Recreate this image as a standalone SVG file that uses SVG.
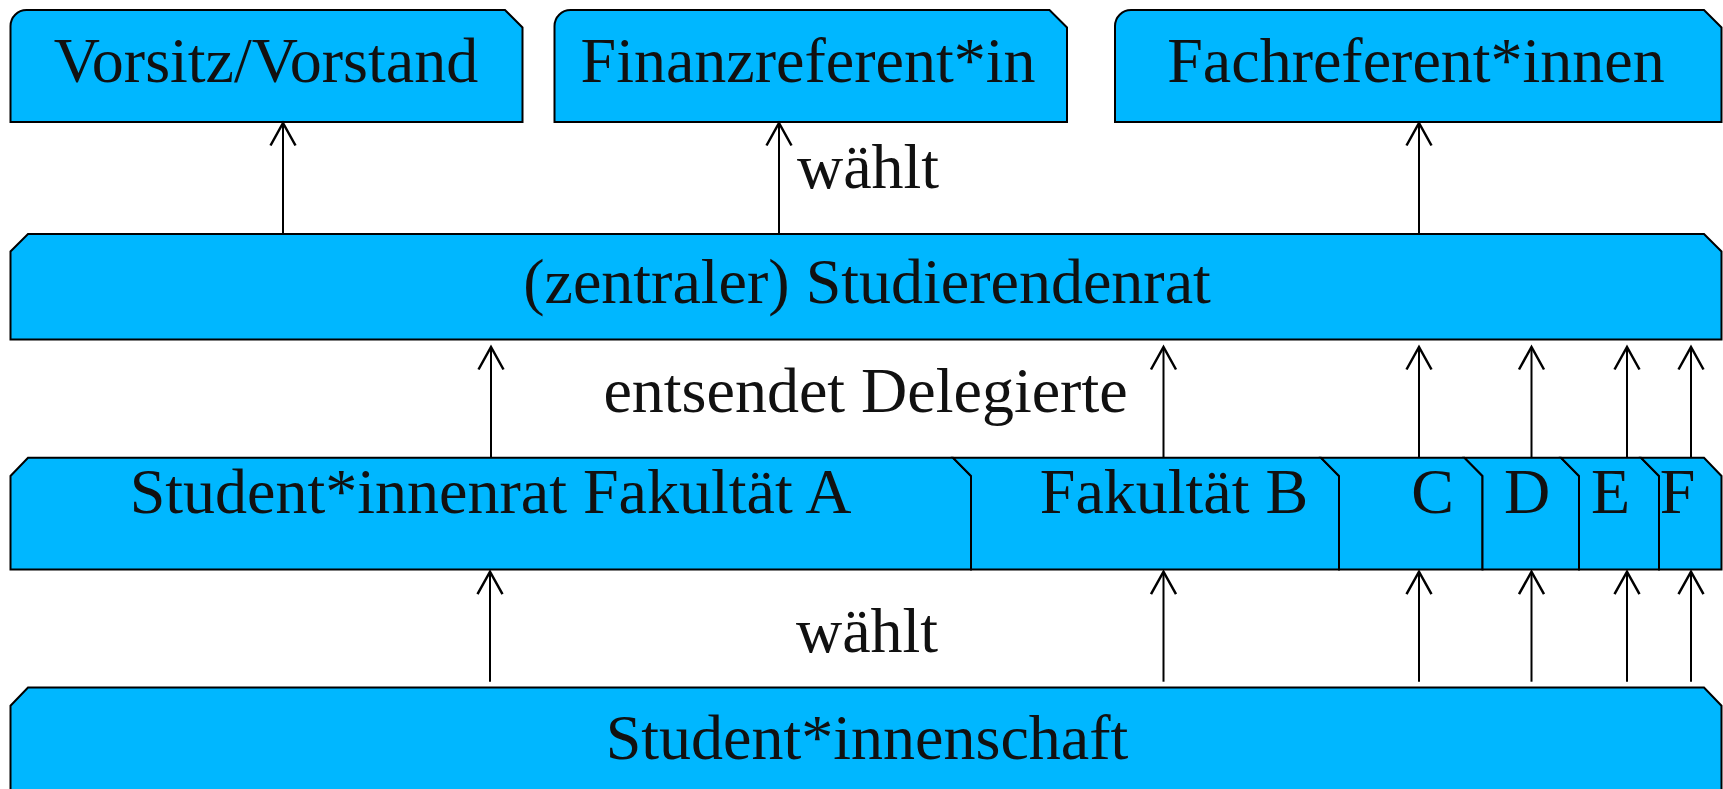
<svg xmlns="http://www.w3.org/2000/svg" width="1723" height="789" viewBox="0 0 1723 789">
<style>
.box{fill:#00b7ff;stroke:#000;stroke-width:2;stroke-linejoin:miter}
.lbl{font-family:"Liberation Serif","Times New Roman",serif;font-size:64px;fill:#111;text-anchor:middle}
.conn{stroke:#000;stroke-width:2;fill:none}
</style>
<defs>
<marker id="arr" markerUnits="userSpaceOnUse" markerWidth="30" markerHeight="30" refX="0" refY="0" viewBox="-20 -12 22 24" orient="auto" overflow="visible">
<path d="M-18,-10 L0,0 L-18,10" fill="none" stroke="#000" stroke-width="2"/>
</marker>
</defs>
<rect width="1723" height="789" fill="#fff"/>
<g id="vorsitz">
<path class="box" d="M10.5,122 V26 A16,16 0 0 1 26.5,10 H505 L522.5,27.5 V122 Z"/>
<text class="lbl" x="266" y="82">Vorsitz/Vorstand</text>
</g>
<g id="finanz">
<path class="box" d="M554.5,122 V26 A16,16 0 0 1 570.5,10 H1049.5 L1067,27.5 V122 Z"/>
<text class="lbl" x="808" y="82">Finanzreferent*in</text>
</g>
<g id="fach">
<path class="box" d="M1115,122 V26 A16,16 0 0 1 1131,10 H1704 L1721.5,27.5 V122 Z"/>
<text class="lbl" x="1416" y="82">Fachreferent*innen</text>
</g>
<g id="stura">
<path class="box" d="M10.5,339.5 V251.5 L28,234 H1704 L1721.5,251.5 V339.5 Z"/>
<text class="lbl" x="867" y="303">(zentraler) Studierendenrat</text>
</g>
<g id="fakA">
<path class="box" d="M10.5,569.5 V476 L28,457.7 H953 L971,476 V569.5 Z"/>
<text class="lbl" x="490.5" y="513">Student*innenrat Fakultät A</text>
</g>
<g id="fakB">
<path class="box" d="M971,569.5 V476 L953,457.7 H1321 L1339,476 V569.5 Z"/>
<text class="lbl" x="1174" y="513">Fakultät B</text>
</g>
<g id="fakC">
<path class="box" d="M1339,569.5 V476 L1321,457.7 H1464.5 L1482.5,476 V569.5 Z"/>
<text class="lbl" x="1432.5" y="513">C</text>
</g>
<g id="fakD">
<path class="box" d="M1482.5,569.5 V476 L1464.5,457.7 H1561 L1579,476 V569.5 Z"/>
<text class="lbl" x="1527" y="513">D</text>
</g>
<g id="fakE">
<path class="box" d="M1579,569.5 V476 L1561,457.7 H1641 L1659,476 V569.5 Z"/>
<text class="lbl" x="1610.5" y="513">E</text>
</g>
<g id="fakF">
<path class="box" d="M1659,569.5 V476 L1641,457.7 H1704 L1721.5,476 V569.5 Z"/>
<text class="lbl" x="1677.5" y="513">F</text>
</g>
<g id="studschaft">
<path class="box" d="M10.5,800 V705.7 L28,687.5 H1704 L1721.5,705.7 V800 Z"/>
<text class="lbl" x="867" y="759">Student*innenschaft</text>
</g>
<g id="connectors">
<path class="conn" marker-end="url(#arr)" d="M283,234 V123"/>
<path class="conn" marker-end="url(#arr)" d="M779,234 V123"/>
<path class="conn" marker-end="url(#arr)" d="M1419,234 V123"/>
<path class="conn" marker-end="url(#arr)" d="M491,457.7 V347"/>
<path class="conn" marker-end="url(#arr)" d="M1163.5,457.7 V347"/>
<path class="conn" marker-end="url(#arr)" d="M1419,457.7 V347"/>
<path class="conn" marker-end="url(#arr)" d="M1531.5,457.7 V347"/>
<path class="conn" marker-end="url(#arr)" d="M1627,457.7 V347"/>
<path class="conn" marker-end="url(#arr)" d="M1691,457.7 V347"/>
<path class="conn" marker-end="url(#arr)" d="M490,681.7 V571.7"/>
<path class="conn" marker-end="url(#arr)" d="M1163.5,681.7 V571.7"/>
<path class="conn" marker-end="url(#arr)" d="M1419,681.7 V571.7"/>
<path class="conn" marker-end="url(#arr)" d="M1531.5,681.7 V571.7"/>
<path class="conn" marker-end="url(#arr)" d="M1627,681.7 V571.7"/>
<path class="conn" marker-end="url(#arr)" d="M1691,681.7 V571.7"/>
<text class="lbl" x="868" y="188">wählt</text>
<text class="lbl" x="865.5" y="412">entsendet Delegierte</text>
<text class="lbl" x="867" y="652">wählt</text>
</g>
</svg>
